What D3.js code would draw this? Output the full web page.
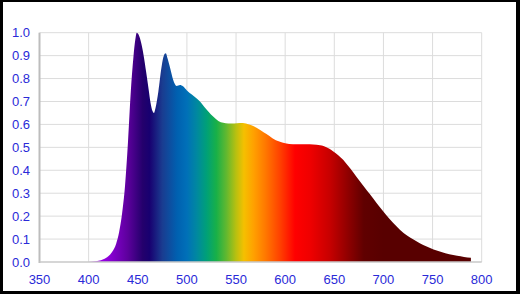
<!DOCTYPE html>
<html><head><meta charset="utf-8">
<script src="https://cdn.jsdelivr.net/npm/d3@7"></script>
<style>html,body{margin:0;padding:0;background:#000;overflow:hidden}</style>
</head><body>
<svg id="c" width="520" height="294"></svg>
<script>
const wavelengths = [400,405,410,415,420,424,428,431,434,437,440,443,445.5,447.5,449,451,453.5,456,458.5,461,463,465,466.5,468,471,474,476.5,478.5,480.5,483,486,489.5,493,496,500,505,510,514,518,522,527,532,537,542,548,554,560,565,570,575,581,587,594,600,608,616,625,632,639,645,649,654,659,664,669,676,683,690,696,703,710,717,724,731,737,744,751,759,767,775,782,789];
const intensity = [0,0.002,0.005,0.012,0.025,0.045,0.08,0.13,0.21,0.33,0.52,0.75,0.89,0.97,1.0,0.99,0.955,0.9,0.83,0.755,0.695,0.658,0.65,0.67,0.745,0.845,0.9,0.91,0.885,0.845,0.795,0.768,0.772,0.766,0.748,0.73,0.713,0.697,0.675,0.655,0.633,0.615,0.607,0.604,0.604,0.606,0.604,0.597,0.588,0.575,0.558,0.54,0.525,0.518,0.514,0.514,0.514,0.511,0.506,0.494,0.482,0.466,0.446,0.42,0.393,0.352,0.313,0.275,0.241,0.204,0.17,0.14,0.116,0.097,0.082,0.068,0.055,0.044,0.034,0.027,0.022,0.019];
const xTicks = [350,400,450,500,550,600,650,700,750,800];
const yTicks = [0,0.1,0.2,0.3,0.4,0.5,0.6,0.7,0.8,0.9,1.0];
const gradWl = [400,420,440,455,462,475,490,500,510,520,530,540,550,558,568,580,595,610,625,645,665,680,700,790];
const gradCol = ["#b000ff","#8c00d8","#5c009c","#24006c","#180070","#1a3c90","#0060b0","#0070b8","#0088a0","#00a078","#18b048","#60b830","#b8c010","#f5c000","#ffa000","#ff7800","#ff4000","#ff0000","#f00000","#c80000","#8c0000","#600000","#580000","#580000"];

const svg = d3.select("#c");
svg.append("rect").attr("x",0).attr("y",0).attr("width",520).attr("height",294).attr("fill","#000");
svg.append("rect").attr("x",3).attr("y",2).attr("width",513).attr("height",289).attr("fill","#fff");

const x = d3.scaleLinear().domain([350,800]).range([39.5,481.7]);
const y = d3.scaleLinear().domain([0,1]).range([262,32.7]);

// gridlines
const g = svg.append("g");
g.selectAll("line.v").data(xTicks.slice(1)).enter().append("line")
  .attr("x1",d=>x(d)).attr("x2",d=>x(d)).attr("y1",y(0)).attr("y2",y(1))
  .attr("stroke","#dcdcdc").attr("stroke-width",1);
g.selectAll("line.h").data(yTicks.slice(1)).enter().append("line")
  .attr("x1",x(350)).attr("x2",x(800)).attr("y1",d=>y(d)).attr("y2",d=>y(d))
  .attr("stroke","#dcdcdc").attr("stroke-width",1);

// gradient
const defs = svg.append("defs");
const lg = defs.append("linearGradient").attr("id","spec").attr("gradientUnits","userSpaceOnUse")
  .attr("x1",x(gradWl[0])).attr("x2",x(gradWl[gradWl.length-1])).attr("y1",0).attr("y2",0);
const w0 = gradWl[0], w1 = gradWl[gradWl.length-1];
gradWl.forEach((w,i)=>{
  lg.append("stop").attr("offset",((w-w0)/(w1-w0)*100)+"%").attr("stop-color",gradCol[i]);
});

const data = wavelengths.map((w,i)=>({w, v:intensity[i]}));
const area = d3.area().x(d=>x(d.w)).y0(y(0)).y1(d=>y(d.v)).curve(d3.curveMonotoneX);
svg.append("path").datum(data).attr("d",area).attr("fill","url(#spec)");

// axes lines
svg.append("line").attr("x1",x(350)).attr("x2",x(350)).attr("y1",y(1)).attr("y2",y(0)+1)
  .attr("stroke","#bdbdbd").attr("stroke-width",2);
svg.append("line").attr("x1",x(350)).attr("x2",x(800)).attr("y1",y(0)).attr("y2",y(0))
  .attr("stroke","#c8c8c8").attr("stroke-width",1.5);

// labels
const font = "'Liberation Sans', Arial, sans-serif";
svg.selectAll("text.y").data(yTicks).enter().append("text")
  .attr("x",30).attr("y",d=>y(d)+4.6).attr("text-anchor","end")
  .attr("font-family",font).attr("font-size",13).attr("fill","#2a2ad8")
  .text(d=>d3.format(".1f")(d));
svg.selectAll("text.x").data(xTicks).enter().append("text")
  .attr("x",d=>x(d)).attr("y",283.5).attr("text-anchor","middle")
  .attr("font-family",font).attr("font-size",13).attr("fill","#2a2ad8")
  .text(d=>d);
</script>
</body></html>
